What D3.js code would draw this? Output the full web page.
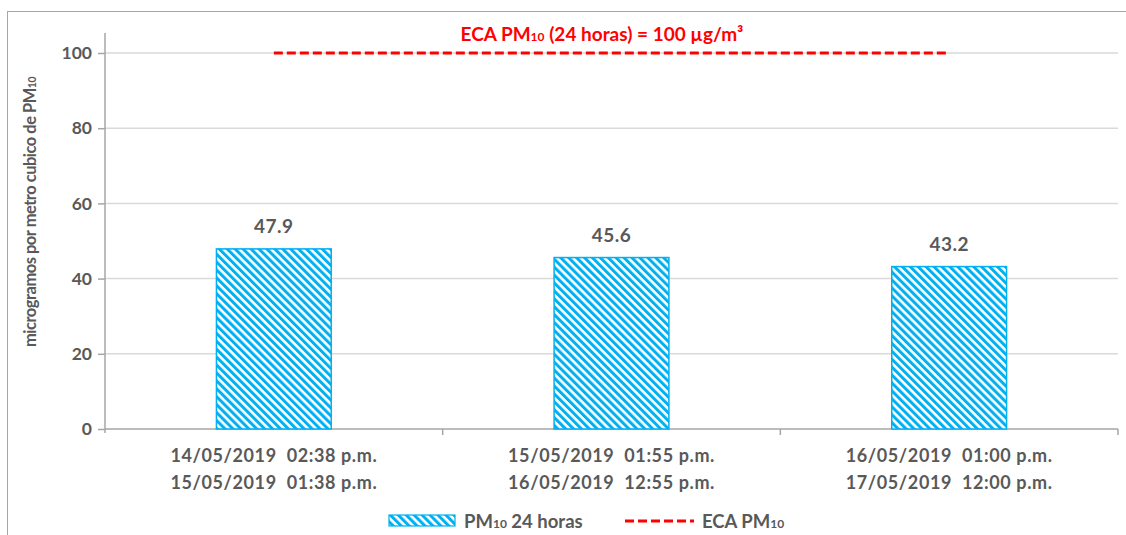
<!DOCTYPE html>
<html><head><meta charset="utf-8">
<script src="https://cdn.jsdelivr.net/npm/d3@7"></script>
<style>
body{margin:0;background:#fff;}
text{font-family:Lato,"Open Sans",sans-serif;font-weight:bold;}
</style></head>
<body><svg id="c" width="1126" height="535"></svg>
<script>
const categoriesLine1 = ["14/05/2019  02:38 p.m.", "15/05/2019  01:55 p.m.", "16/05/2019  01:00 p.m."];
const categoriesLine2 = ["15/05/2019  01:38 p.m.", "16/05/2019  12:55 p.m.", "17/05/2019  12:00 p.m."];
const pm10Values = [47.9, 45.6, 43.2];
const ecaValue = 100;
const yTicks = [0, 20, 40, 60, 80, 100];

(function(){
const svg = d3.select("#c");
const W = 1126, H = 535;
const mLeft = 105, mRight = 1118, mTop = 53, mBottom = 429;
const txt = "#595959";

const defs = svg.append("defs");
const pat = defs.append("pattern").attr("id","stripes").attr("patternUnits","userSpaceOnUse")
  .attr("width",5.6).attr("height",5.6).attr("patternTransform","rotate(-45)");
pat.append("rect").attr("width",5.6).attr("height",5.6).attr("fill","#fff");
pat.append("rect").attr("x",0).attr("width",3).attr("height",5.6).attr("fill","#00B0F0");

// outer border
svg.append("rect").attr("x",7.5).attr("y",11.5).attr("width",W+20).attr("height",H+20)
  .attr("fill","none").attr("stroke","#a6a6a6").attr("stroke-width",1);

const x = d3.scaleBand().domain(d3.range(pm10Values.length)).range([mLeft,mRight]).paddingInner(0).paddingOuter(0);
const y = d3.scaleLinear().domain([0,100]).range([mBottom,mTop]);

// gridlines
svg.append("g").selectAll("line").data(yTicks.filter(d=>d>0)).join("line")
  .attr("x1",mLeft).attr("x2",mRight).attr("y1",d=>y(d)).attr("y2",d=>y(d))
  .attr("stroke","#d9d9d9").attr("stroke-width",1.5);

// y axis
const yAxis = svg.append("g").attr("transform",`translate(${mLeft},0)`)
  .call(d3.axisLeft(y).tickValues(yTicks).tickSize(7).tickPadding(6));
yAxis.select(".domain").remove();
yAxis.selectAll(".tick line").attr("stroke","#a6a6a6").attr("stroke-width",1.5);
yAxis.selectAll(".tick text").attr("fill",txt).style("font-size","17.5px").style("font-family","Lato,sans-serif").style("font-weight","bold");
svg.append("line").attr("x1",mLeft).attr("x2",mLeft).attr("y1",33).attr("y2",mBottom+4)
  .attr("stroke","#a6a6a6").attr("stroke-width",1.5);

// x axis
svg.append("line").attr("x1",mLeft).attr("x2",mRight).attr("y1",mBottom).attr("y2",mBottom)
  .attr("stroke","#a6a6a6").attr("stroke-width",1.5);
const bounds = d3.range(pm10Values.length+1).map(i=> i<pm10Values.length ? x(i) : x(i-1)+x.bandwidth());
svg.append("g").selectAll("line").data(bounds.slice(1)).join("line")
  .attr("x1",d=>d).attr("x2",d=>d).attr("y1",mBottom).attr("y2",mBottom+6)
  .attr("stroke","#a6a6a6").attr("stroke-width",1.5);

// bars
const bw = x.bandwidth()*0.34;
svg.append("g").selectAll("rect").data(pm10Values).join("rect")
  .attr("x",(d,i)=>x(i)+x.bandwidth()/2-bw/2).attr("width",bw)
  .attr("y",d=>y(d)).attr("height",d=>mBottom-y(d))
  .attr("fill","url(#stripes)").attr("stroke","#00B0F0").attr("stroke-width",1.5);

// value labels
svg.append("g").selectAll("text").data(pm10Values).join("text")
  .attr("x",(d,i)=>x(i)+x.bandwidth()/2).attr("y",d=>y(d)-16)
  .attr("text-anchor","middle").attr("fill",txt).style("font-size","19px").style("letter-spacing","0.5px")
  .text(d=>d.toFixed(1));

// category labels
const cl = svg.append("g");
cl.selectAll("text.l1").data(categoriesLine1).join("text").attr("class","l1")
  .attr("x",(d,i)=>x(i)+x.bandwidth()/2).attr("y",462).attr("text-anchor","middle")
  .attr("fill",txt).style("font-size","18px").style("letter-spacing","0.6px").style("white-space","pre").attr("xml:space","preserve").text(d=>d);
cl.selectAll("text.l2").data(categoriesLine2).join("text").attr("class","l2")
  .attr("x",(d,i)=>x(i)+x.bandwidth()/2).attr("y",489).attr("text-anchor","middle")
  .attr("fill",txt).style("font-size","18px").style("letter-spacing","0.6px").style("white-space","pre").attr("xml:space","preserve").text(d=>d);

// ECA line
svg.append("line").attr("x1",x(0)+x.bandwidth()/2).attr("x2",x(2)+x.bandwidth()/2)
  .attr("y1",y(ecaValue)).attr("y2",y(ecaValue))
  .attr("stroke","#FF0000").attr("stroke-width",3).attr("stroke-dasharray","9,4");

// title
const t = svg.append("text").attr("x",602).attr("y",41).attr("text-anchor","middle")
  .attr("fill","#FF0000").style("font-size","19px");
t.append("tspan").text("ECA PM");
t.append("tspan").style("font-size","12px").text("10");
t.append("tspan").text(" (24 horas) = 100 µg/m³");

// y axis title
const yt = svg.append("text").attr("transform","translate(36,212) rotate(-90)").attr("text-anchor","middle")
  .attr("fill",txt).style("font-size","16.5px").style("letter-spacing","-0.5px");
yt.append("tspan").text("microgramos por metro cubico de PM");
yt.append("tspan").style("font-size","10.5px").text("10");

// legend
svg.append("rect").attr("x",389).attr("y",515).attr("width",66).attr("height",11)
  .attr("fill","url(#stripes)").attr("stroke","#00B0F0").attr("stroke-width",1.2);
const l1 = svg.append("text").attr("x",464).attr("y",528).attr("fill",txt).style("font-size","18.5px");
l1.append("tspan").text("PM");
l1.append("tspan").style("font-size","12px").text("10");
l1.append("tspan").text(" 24 horas");
svg.append("line").attr("x1",625).attr("x2",694).attr("y1",521).attr("y2",521)
  .attr("stroke","#FF0000").attr("stroke-width",3).attr("stroke-dasharray","9,4");
const l2 = svg.append("text").attr("x",702).attr("y",528).attr("fill",txt).style("font-size","18.5px");
l2.append("tspan").text("ECA PM");
l2.append("tspan").style("font-size","12px").text("10");
})();
</script></body></html>
